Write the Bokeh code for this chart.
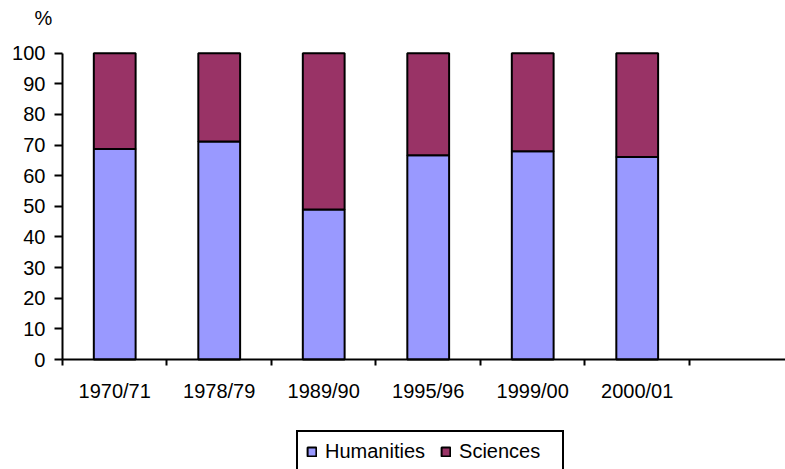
from bokeh.plotting import figure
from bokeh.models import Range1d, FixedTicker, Legend, LegendItem, Label, ColumnDataSource
from bokeh.embed import file_html
from bokeh.resources import INLINE

categories = ["1970/71", "1978/79", "1989/90", "1995/96", "1999/00", "2000/01"]
humanities = [68.7, 71.2, 49.0, 66.7, 68.0, 66.1]
sciences = [31.3, 28.8, 51.0, 33.3, 32.0, 33.9]
y_ticks = [0, 10, 20, 30, 40, 50, 60, 70, 80, 90, 100]

FONT = "Liberation Sans"
H_COLOR = "#9999FF"
S_COLOR = "#993366"

# layout: the whole canvas is the frame; axes are pinned at 0
X_START, X_END = -0.593, 6.919
Y_START, Y_END = -35.9, 117.2

xpos = [i + 0.5 for i in range(len(categories))]
src = ColumnDataSource(dict(x=xpos, humanities=humanities, sciences=sciences))

p = figure(width=785, height=469, output_backend="svg", toolbar_location=None,
           x_range=Range1d(X_START, X_END), y_range=Range1d(Y_START, Y_END),
           min_border=0, min_border_left=0, min_border_right=0,
           min_border_top=0, min_border_bottom=0)
p.outline_line_color = None
p.xgrid.visible = False
p.ygrid.visible = False
p.background_fill_color = "white"
p.border_fill_color = "white"

rs = p.vbar_stack(["humanities", "sciences"], x="x", width=0.4, source=src,
                  fill_color=[H_COLOR, S_COLOR], line_color="black", line_width=2)

# y axis
p.yaxis.fixed_location = 0
p.yaxis.bounds = (0, 100)
p.yaxis.ticker = FixedTicker(ticks=y_ticks)
p.yaxis.axis_line_width = 2
p.yaxis.major_tick_line_width = 2
p.yaxis.major_tick_out = 8
p.yaxis.major_tick_in = 0
p.yaxis.minor_tick_line_color = None
p.yaxis.major_label_standoff = 9
p.yaxis.major_label_text_font = FONT
p.yaxis.major_label_text_font_size = "20px"
p.yaxis.major_label_text_color = "black"
p.yaxis.axis_line_color = "black"

# x axis
p.xaxis.fixed_location = 0
p.xaxis.bounds = (0, X_END)
p.xaxis.ticker = FixedTicker(ticks=xpos, minor_ticks=list(range(len(categories) + 1)))
p.xaxis.major_label_overrides = {x: c for x, c in zip(xpos, categories)}
p.xaxis.axis_line_width = 2
p.xaxis.axis_line_color = "black"
p.xaxis.major_tick_out = 0
p.xaxis.major_tick_in = 0
p.xaxis.major_tick_line_color = None
p.xaxis.minor_tick_out = 6
p.xaxis.minor_tick_in = 0
p.xaxis.minor_tick_line_width = 2
p.xaxis.minor_tick_line_color = "black"
p.xaxis.major_label_standoff = 14
p.xaxis.major_label_text_font = FONT
p.xaxis.major_label_text_font_size = "20px"
p.xaxis.major_label_text_color = "black"

# "%" unit label (screen units, origin at bottom-left of the frame)
p.add_layout(Label(x=43, y=452, x_units="screen", y_units="screen", text="%",
                   text_font=FONT, text_font_size="20px", text_align="center",
                   text_baseline="middle", text_color="black"))

legend = Legend(items=[LegendItem(label="Humanities", renderers=[rs[0]]),
                       LegendItem(label="Sciences", renderers=[rs[1]])],
                orientation="horizontal", location=(296, -4),
                border_line_color="black", border_line_width=2, border_line_alpha=1,
                background_fill_color="white", background_fill_alpha=1,
                label_text_font=FONT, label_text_font_size="20px", label_text_color="black",
                glyph_width=11, glyph_height=11, label_standoff=8,
                spacing=15, padding=8, label_height=20, label_width=95, margin=0)
p.add_layout(legend, "center")

open("out.html", "w").write(file_html(p, INLINE))
